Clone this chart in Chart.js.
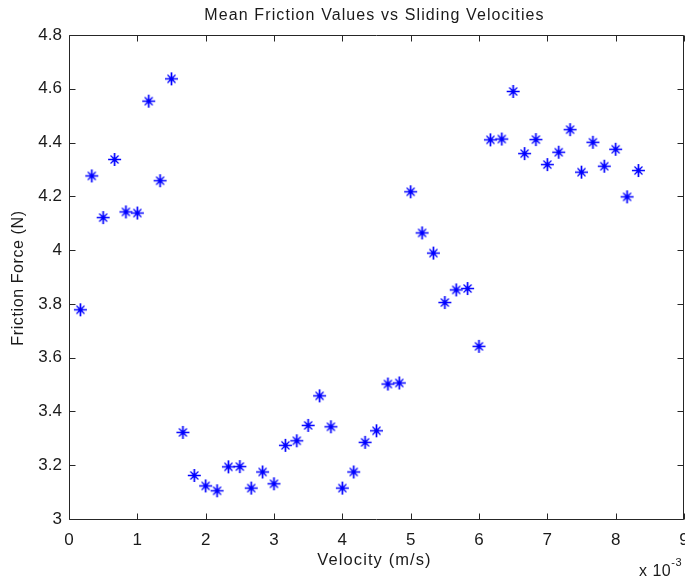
<!DOCTYPE html>
<html>
<head>
<meta charset="utf-8">
<script src="https://cdn.jsdelivr.net/npm/chart.js@4/dist/chart.umd.min.js"></script>
<style>
  html, body { margin: 0; padding: 0; background: #fff; }
  #wrap { width: 685px; height: 581px; position: relative; }
</style>
</head>
<body>
<div id="wrap"><canvas id="c" width="685" height="581"></canvas></div>
<script>
// Velocity values (in units of 1e-3 m/s)
const velocity = [0.167,0.333,0.5,0.667,0.833,1.0,1.167,1.333,1.5,1.667,
                  1.833,2.0,2.167,2.333,2.5,2.667,2.833,3.0,3.167,3.333,
                  3.5,3.667,3.833,4.0,4.167,4.333,4.5,4.667,4.833,5.0,
                  5.167,5.333,5.5,5.667,5.833,6.0,6.167,6.333,6.5,6.667,
                  6.833,7.0,7.167,7.333,7.5,7.667,7.833,8.0,8.167,8.333];
// Mean friction force (N)
const friction = [3.778,4.276,4.121,4.337,4.142,4.138,4.554,4.258,4.637,3.322,
                  3.162,3.123,3.105,3.194,3.195,3.115,3.175,3.131,3.274,3.291,
                  3.348,3.458,3.343,3.115,3.175,3.285,3.328,3.502,3.506,4.217,
                  4.064,3.989,3.805,3.852,3.857,3.642,4.410,4.413,4.590,4.359,
                  4.411,4.318,4.364,4.448,4.290,4.401,4.312,4.375,4.198,4.296];
const xTicks = [0,1,2,3,4,5,6,7,8,9];
const yTicks = [3,3.2,3.4,3.6,3.8,4,4.2,4.4,4.6,4.8];
const titleText = 'Mean Friction Values vs Sliding Velocities';
const xLabel = 'Velocity (m/s)';
const yLabel = 'Friction Force (N)';
const xExpBase = 'x 10';
const xExpPow = '-3';

const FONT = '"Liberation Sans", Arial, Helvetica, sans-serif';
const TXT = '#1a1a1a';

// MATLAB-like '*' marker as an image
function makeStar() {
  const s = 15, c = document.createElement('canvas');
  c.width = s; c.height = s;
  const g = c.getContext('2d');
  g.strokeStyle = '#0000ff';
  g.lineCap = 'butt';
  const m = s / 2;
  g.lineWidth = 1.7;
  g.beginPath();
  g.moveTo(m - 6.5, m); g.lineTo(m + 6.5, m);
  g.moveTo(m, m - 6.5); g.lineTo(m, m + 6.5);
  g.stroke();
  g.lineWidth = 1.2;
  const d = 4;
  g.beginPath();
  g.moveTo(m - d, m - d); g.lineTo(m + d, m + d);
  g.moveTo(m + d, m - d); g.lineTo(m - d, m + d);
  g.stroke();
  g.fillStyle = '#0000ff';
  g.beginPath(); g.arc(m, m, 2.2, 0, Math.PI * 2); g.fill();
  return c;
}

const frame = {
  id: 'frame',
  afterDraw(chart) {
    const ctx = chart.ctx, a = chart.chartArea;
    const xs = chart.scales.x, ys = chart.scales.y;
    ctx.save();
    ctx.strokeStyle = '#262626';
    ctx.lineWidth = 1;
    const L = Math.round(a.left) + 0.5, R = Math.round(a.right) - 0.5;
    const T = Math.round(a.top) + 0.5, B = Math.round(a.bottom) + 0.5;
    ctx.beginPath();
    ctx.rect(L, T, R - L, B - T);
    const tl = 6;
    xs.ticks.forEach(t => {
      const px = Math.round(xs.getPixelForValue(t.value)) + 0.5;
      ctx.moveTo(px, B); ctx.lineTo(px, B - tl);
      ctx.moveTo(px, T); ctx.lineTo(px, T + tl);
    });
    ys.ticks.forEach(t => {
      const py = Math.round(ys.getPixelForValue(t.value)) + 0.5;
      ctx.moveTo(L, py); ctx.lineTo(L + tl, py);
      ctx.moveTo(R, py); ctx.lineTo(R - tl, py);
    });
    ctx.stroke();

    ctx.fillStyle = TXT;
    // Title
    ctx.font = '16px ' + FONT;
    ctx.letterSpacing = '1.1px';
    ctx.textAlign = 'center';
    ctx.textBaseline = 'alphabetic';
    const cx = (a.left + a.right) / 2 - 2;
    ctx.fillText(titleText, cx, 20);
    // X label
    ctx.font = '16.5px ' + FONT;
    ctx.fillText(xLabel, cx, 565);
    // Y label
    ctx.save();
    ctx.letterSpacing = '0.6px';
    ctx.translate(23, (a.top + a.bottom) / 2 + 1);
    ctx.rotate(-Math.PI / 2);
    ctx.font = '16px ' + FONT;
    ctx.fillText(yLabel, 0, 0);
    ctx.restore();
    // Exponent
    ctx.textAlign = 'left';
    ctx.letterSpacing = '0.5px';
    ctx.font = '16px ' + FONT;
    ctx.fillText(xExpBase, 639, 576);
    const w = ctx.measureText(xExpBase).width;
    ctx.font = '11px ' + FONT;
    ctx.fillText(xExpPow, 639 + w, 566);
    ctx.restore();
  }
};

new Chart(document.getElementById('c'), {
  type: 'scatter',
  data: {
    datasets: [{
      data: velocity.map((v, i) => ({ x: v, y: friction[i] })),
      pointStyle: makeStar(),
      pointRadius: 7,
      pointHoverRadius: 7,
      borderColor: '#0000ff',
      backgroundColor: '#0000ff'
    }]
  },
  options: {
    responsive: false,
    animation: false,
    events: [],
    layout: { autoPadding: false, padding: { top: 35, right: 1, left: 0, bottom: 0 } },
    plugins: { legend: { display: false }, tooltip: { enabled: false }, title: { display: false } },
    scales: {
      x: {
        type: 'linear', min: 0, max: 9,
        afterBuildTicks(s) { s.ticks = xTicks.map(v => ({ value: v })); },
        afterFit(s) { s.height = 62; s.paddingLeft = 0; s.paddingRight = 0; },
        grid: { display: false, drawTicks: false },
        border: { display: false },
        ticks: { color: TXT, font: { family: FONT, size: 17 }, padding: 11, maxRotation: 0,
                 callback: v => String(v) }
      },
      y: {
        type: 'linear', min: 3, max: 4.8,
        afterBuildTicks(s) { s.ticks = yTicks.map(v => ({ value: v })); },
        afterFit(s) { s.width = 69; s.paddingTop = 0; s.paddingBottom = 0; },
        grid: { display: false, drawTicks: false },
        border: { display: false },
        ticks: { color: TXT, font: { family: FONT, size: 17 }, padding: 7,
                 callback: v => String(Math.round(v * 10) / 10) }
      }
    }
  },
  plugins: [frame]
});
</script>
</body>
</html>
